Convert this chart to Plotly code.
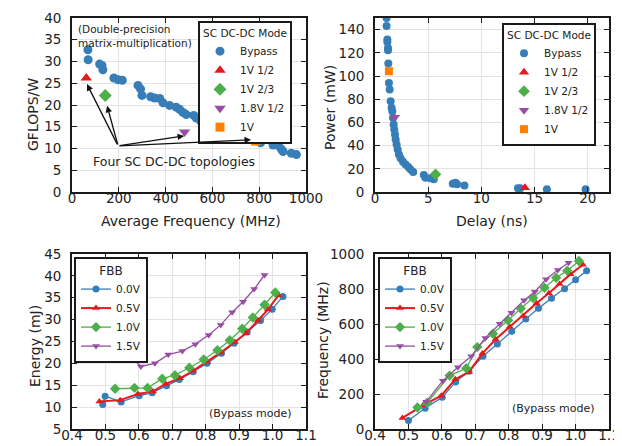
import plotly.graph_objects as go

# ---------------- Data ----------------
# Panel 1: GFLOPS/W vs average frequency
p1_bypass_freq = [68, 69, 118, 128, 132, 179, 197, 215, 282, 293, 299, 336, 353, 375, 389, 417,
                  445, 460, 474, 488, 520, 531, 550, 567, 595, 624, 659, 692, 700, 738, 755, 806,
                  859, 883, 895, 902, 937, 959]
p1_bypass_gf = [32.7, 30.4, 29.4, 29.1, 28.1, 26.2, 25.8, 25.7, 24.5, 23.7, 22.2, 21.9, 21.6, 21.5,
                20.5, 19.9, 19.5, 19.0, 18.3, 17.8, 17.6, 17.0, 16.3, 15.9, 15.5, 15.1, 14.4, 13.8,
                13.9, 13.1, 12.6, 11.3, 10.8, 10.6, 9.8, 9.3, 8.9, 8.6]
p1_1v12 = ([61], [26.2])
p1_1v23 = ([142], [22.2])
p1_18v12 = ([481], [13.8])
p1_1v = ([785], [11.7])

# Panel 2: Power vs delay
p2_bypass_delay = [1.09, 1.09, 1.16, 1.16, 1.22, 1.22, 1.25, 1.31, 1.38, 1.47, 1.56, 1.63, 1.69, 1.75,
                   1.81, 1.88, 1.94, 2.03, 2.13, 2.25, 2.41, 2.63, 2.88, 3.13, 3.34, 3.59, 4.59, 4.75,
                   5.22, 5.53, 7.31, 7.56, 7.72, 8.41, 13.44, 13.66, 16.16, 19.8]
p2_bypass_power = [150, 143, 131.4, 129.4, 124.2, 122.2, 110.7, 94, 88.3, 78.3, 72.6, 69.7, 64, 58.2,
                   53.9, 49.6, 45.3, 41, 36.7, 32.4, 29, 26.1, 23.8, 21.5, 19.5, 17.2, 14.6, 12.3,
                   11.8, 10.9, 7.2, 8, 6.6, 5.7, 3.2, 3.2, 2.3, 2.3]
p2_1v12 = ([14.1], [3.7])
p2_1v23 = ([5.69], [15.2])
p2_18v12 = ([1.88], [64.5])
p2_1v = ([1.31], [104.1])

# Panel 3: Energy vs Vdd (FBB)
e_v00 = [0.492, 0.499, 0.547, 0.601, 0.640, 0.683, 0.721, 0.762, 0.804, 0.847, 0.885, 0.924, 0.964, 0.999, 1.031]
e_00 = [10.6, 12.5, 11.2, 12.6, 13.3, 14.9, 16.3, 18.1, 20.0, 22.3, 24.6, 27.2, 29.8, 32.4, 35.3]
e_v05 = [0.482, 0.544, 0.597, 0.642, 0.680, 0.723, 0.762, 0.804, 0.845, 0.887, 0.921, 0.956, 0.986, 1.018]
e_05 = [11.3, 11.6, 13.0, 13.6, 15.3, 16.6, 18.3, 20.4, 22.5, 24.9, 26.9, 29.8, 32.3, 35.6]
e_v10 = [0.529, 0.587, 0.626, 0.670, 0.708, 0.751, 0.794, 0.835, 0.872, 0.909, 0.941, 0.976, 1.008]
e_10 = [14.2, 14.4, 14.4, 16.5, 17.3, 19.0, 20.9, 23.0, 25.3, 27.9, 30.5, 33.4, 36.2]
e_v15 = [0.520, 0.561, 0.606, 0.648, 0.688, 0.730, 0.769, 0.809, 0.845, 0.879, 0.912, 0.945, 0.976]
e_15 = [26.5, 22.8, 19.3, 20.0, 22.0, 22.8, 24.4, 26.5, 28.8, 31.7, 34.1, 37.0, 40.2]

# Panel 4: Frequency vs Vdd (FBB)
f_v00 = [0.500, 0.550, 0.601, 0.641, 0.681, 0.723, 0.766, 0.809, 0.851, 0.889, 0.928, 0.967, 1.000, 1.033]
f_00 = [48, 119, 182, 268, 330, 416, 485, 559, 628, 690, 747, 801, 853, 904]
f_v05 = [0.482, 0.544, 0.598, 0.640, 0.681, 0.721, 0.761, 0.803, 0.843, 0.883, 0.920, 0.952, 0.985, 1.022]
f_05 = [63, 135, 190, 284, 326, 431, 513, 584, 646, 718, 776, 828, 885, 939]
f_v10 = [0.527, 0.556, 0.623, 0.673, 0.706, 0.753, 0.798, 0.836, 0.873, 0.907, 0.942, 0.975, 1.010]
f_10 = [123, 150, 305, 347, 468, 544, 621, 688, 749, 807, 864, 905, 960]
f_v15 = [0.553, 0.603, 0.648, 0.688, 0.730, 0.773, 0.808, 0.846, 0.878, 0.912, 0.947, 0.979]
f_15 = [155, 276, 353, 416, 520, 602, 665, 736, 784, 856, 908, 950]

# ---------------- Styles ----------------
BLUE = "#377eb8"
RED = "#e41a1c"
GREEN = "#4daf4a"
PURPLE = "#984ea3"
ORANGE = "#ff7f00"
FONT = "DejaVu Sans"
TXT = "#222222"

W, H = 622, 446


def px_x(p):
    return p / W


def px_y(p):
    return 1 - p / H


fig = go.Figure()


def mk(x, y, name, color, symbol, size, xa, ya, legend, mode="markers", lw=1.3):
    fig.add_trace(go.Scatter(
        x=x, y=y, name=name, mode=mode,
        marker=dict(color=color, symbol=symbol, size=size, line=dict(width=0)),
        line=dict(color=color, width=lw),
        xaxis=xa, yaxis=ya, legend=legend, showlegend=True))


# Panel 1
mk(p1_bypass_freq, p1_bypass_gf, "Bypass", BLUE, "circle", 9, "x", "y", "legend")
mk(*p1_1v12, "1V 1/2", RED, "triangle-up", 10, "x", "y", "legend")
mk(*p1_1v23, "1V 2/3", GREEN, "diamond", 10, "x", "y", "legend")
mk(*p1_18v12, "1.8V 1/2", PURPLE, "triangle-down", 10, "x", "y", "legend")
mk(*p1_1v, "1V", ORANGE, "square", 9, "x", "y", "legend")

# Panel 2
mk(p2_bypass_delay, p2_bypass_power, "Bypass", BLUE, "circle", 8, "x2", "y2", "legend2")
mk(*p2_1v12, "1V 1/2", RED, "triangle-up", 9, "x2", "y2", "legend2")
mk(*p2_1v23, "1V 2/3", GREEN, "diamond", 9, "x2", "y2", "legend2")
mk(*p2_18v12, "1.8V 1/2", PURPLE, "triangle-down", 9, "x2", "y2", "legend2")
mk(*p2_1v, "1V", ORANGE, "square", 8, "x2", "y2", "legend2")

# Panel 3
mk(e_v00, e_00, "0.0V", BLUE, "circle", 7, "x3", "y3", "legend3", mode="lines+markers")
mk(e_v05, e_05, "0.5V", RED, "triangle-up", 7, "x3", "y3", "legend3", mode="lines+markers", lw=2)
mk(e_v10, e_10, "1.0V", GREEN, "diamond", 8, "x3", "y3", "legend3", mode="lines+markers")
mk(e_v15, e_15, "1.5V", PURPLE, "triangle-down", 7, "x3", "y3", "legend3", mode="lines+markers")

# Panel 4
mk(f_v00, f_00, "0.0V", BLUE, "circle", 7, "x4", "y4", "legend4", mode="lines+markers")
mk(f_v05, f_05, "0.5V", RED, "triangle-up", 7, "x4", "y4", "legend4", mode="lines+markers", lw=2)
mk(f_v10, f_10, "1.0V", GREEN, "diamond", 8, "x4", "y4", "legend4", mode="lines+markers")
mk(f_v15, f_15, "1.5V", PURPLE, "triangle-down", 7, "x4", "y4", "legend4", mode="lines+markers")


def axis(domain, rng, dtick, anchor, fmt=None, is_x=True):
    d = dict(domain=domain, range=rng, dtick=dtick, tick0=0, anchor=anchor,
             showline=True, linecolor="#1a1a1a", linewidth=1.8, mirror="ticks",
             ticks="inside", ticklen=5, tickwidth=1.3, tickcolor="#1a1a1a",
             showgrid=True, gridcolor="#e3e3e3", gridwidth=1, zeroline=False,
             tickfont=dict(family=FONT, size=13.5, color=TXT), automargin=False,
             ticklabelstandoff=-7 if is_x else 6)
    if fmt:
        d["tickformat"] = fmt
    return d


xd_left = [px_x(64), px_x(298)]
xd_right = [px_x(367), px_x(601)]
yd_top = [px_y(184), px_y(10)]
yd_bot = [px_y(421), px_y(246)]

legend_common = dict(bgcolor="white", bordercolor="#1a1a1a", borderwidth=2,
                     font=dict(family=FONT, size=10.5, color=TXT),
                     xanchor="left", yanchor="top", tracegroupgap=0, itemwidth=30)

fig.update_layout(
    width=W, height=H,
    margin=dict(l=0, r=0, t=0, b=0),
    paper_bgcolor="white", plot_bgcolor="white",
    font=dict(family=FONT, color=TXT),
    xaxis=axis(xd_left, [0, 1000], 200, "y"),
    yaxis=axis(yd_top, [0, 40], 5, "x", is_x=False),
    xaxis2=axis(xd_right, [0, 22], 5, "y2"),
    yaxis2=axis(yd_top, [0, 150], 20, "x2", is_x=False),
    xaxis3=axis(xd_left, [0.4, 1.1], 0.1, "y3", ".1f"),
    yaxis3=axis(yd_bot, [5, 45], 5, "x3", is_x=False),
    xaxis4=axis(xd_right, [0.4, 1.1], 0.1, "y4", ".1f"),
    yaxis4=axis(yd_bot, [0, 1000], 200, "x4", is_x=False),
    legend=dict(x=px_x(190), y=px_y(13), title=dict(text="SC DC-DC Mode", side="top center",
                font=dict(family=FONT, size=10.5, color=TXT)), **legend_common),
    legend2=dict(x=px_x(494), y=px_y(15), title=dict(text="SC DC-DC Mode", side="top center",
                 font=dict(family=FONT, size=10.5, color=TXT)), **legend_common),
    legend3=dict(x=px_x(66), y=px_y(249), title=dict(text="FBB", side="top center",
                 font=dict(family=FONT, size=12, color=TXT)), **legend_common),
    legend4=dict(x=px_x(370), y=px_y(249), title=dict(text="FBB", side="top center",
                 font=dict(family=FONT, size=12, color=TXT)), **legend_common),
    showlegend=True,
)

ann = []
# axis titles
def title_ann(text, x, y, angle=0, size=14, yanchor="middle"):
    ann.append(dict(text=text, x=px_x(x), y=px_y(y), xref="paper", yref="paper",
                    showarrow=False, textangle=angle, xanchor="center", yanchor=yanchor,
                    font=dict(family=FONT, size=size, color=TXT)))

title_ann("Average Frequency (MHz)", 183, 213)
title_ann("Delay (ns)", 484, 213)
title_ann("GFLOPS/W", 25, 107, -90)
title_ann("Power (mW)", 322, 100, -90)
title_ann("Energy (mJ)", 27, 338, -90)
title_ann("Frequency (MHz)", 315, 332, -90)
title_ann("Vdd (V)", 180, 439, yanchor="top")
title_ann("Vdd (V)", 484, 439, yanchor="top")

# panel 1 notes
ann.append(dict(text="(Double-precision<br>matrix-multiplication)", x=15, y=39.3, xref="x", yref="y",
                showarrow=False, xanchor="left", yanchor="top", align="left",
                font=dict(family=FONT, size=10.5, color=TXT)))
ann.append(dict(text="Four SC DC-DC topologies", x=434, y=6.9, xref="x", yref="y",
                showarrow=False, xanchor="center", yanchor="middle",
                font=dict(family=FONT, size=12.5, color=TXT)))
for hx, hy in [(64, 24.8), (150, 19.8), (479, 12.9), (765, 12.0)]:
    ann.append(dict(text="", x=hx, y=hy, ax=197, ay=10.6, xref="x", yref="y", axref="x", ayref="y",
                    showarrow=True, arrowhead=2, arrowsize=1, arrowwidth=1.3, arrowcolor="#111111",
                    standoff=0, startstandoff=0))
# bypass mode notes
ann.append(dict(text="(Bypass mode)", x=1.065, y=8.5, xref="x3", yref="y3", showarrow=False,
                xanchor="right", yanchor="middle", font=dict(family=FONT, size=11, color=TXT)))
ann.append(dict(text="(Bypass mode)", x=1.065, y=118, xref="x4", yref="y4", showarrow=False,
                xanchor="right", yanchor="middle", font=dict(family=FONT, size=11, color=TXT)))

fig.update_layout(annotations=ann)
fig.write_html("out.html")
